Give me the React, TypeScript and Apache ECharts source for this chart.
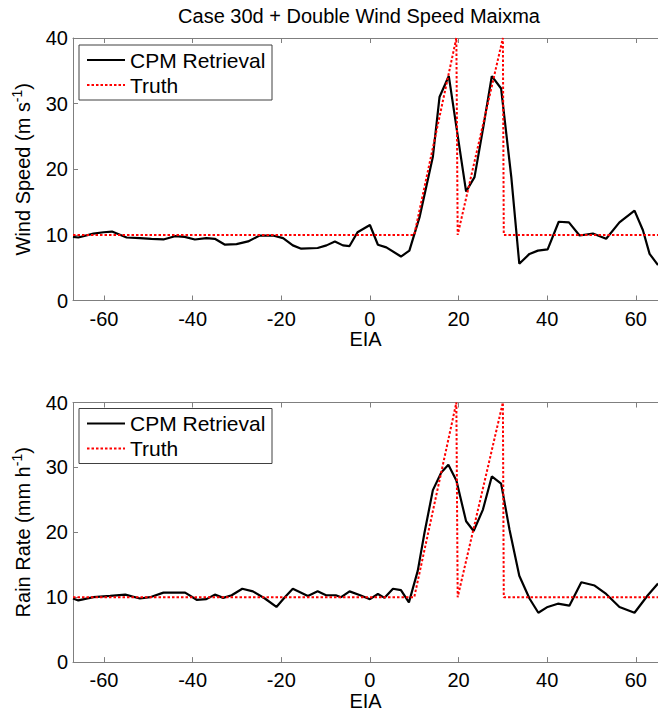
import React, { useEffect, useRef } from "react";
import * as echarts from "echarts";

const titleText = "Case 30d + Double Wind Speed Maixma";
const xTicks = [-60, -40, -20, 0, 20, 40, 60];
const yTicks = [0, 10, 20, 30, 40];

const windX = [-67, -65.8, -62.4, -60.1, -58.2, -54.9, -51.9, -49.3, -46.6, -44.0, -41.8, -39.5, -36.9, -35.0, -32.7, -30.1, -27.5, -24.9, -21.9, -19.6, -17.4, -15.5, -11.8, -9.8, -7.9, -6.1, -4.6, -2.8, 0, 1.8, 3.7, 7.0, 8.9, 11.2, 12.7, 14.2, 15.7, 17.8, 19.5, 21.7, 23.6, 25.6, 27.5, 29.6, 31.9, 33.7, 36.0, 37.9, 40.1, 42.6, 44.9, 47.3, 50.3, 53.3, 56.3, 59.7, 61.6, 63.1, 65.0];
const windY = [9.7, 9.6, 10.2, 10.4, 10.5, 9.6, 9.5, 9.4, 9.3, 9.8, 9.7, 9.3, 9.5, 9.4, 8.5, 8.6, 9.0, 9.9, 9.9, 9.5, 8.4, 7.9, 8.0, 8.4, 9.0, 8.4, 8.3, 10.4, 11.5, 8.5, 8.1, 6.7, 7.6, 12.7, 17.3, 21.9, 31.0, 34.2, 26.5, 16.6, 18.8, 26.5, 34.2, 32.3, 18.8, 5.6, 7.1, 7.6, 7.8, 12.0, 11.9, 9.9, 10.2, 9.4, 11.9, 13.7, 10.7, 7.1, 5.4];

const rainX = [-67, -65.8, -62.4, -58.6, -55.2, -51.9, -49.6, -46.6, -41.7, -39.1, -36.9, -35.0, -33.1, -31.2, -28.8, -26.4, -23.7, -21.1, -19.2, -17.4, -14.0, -11.8, -9.9, -7.7, -6.5, -4.6, -2.2, 0, 1.8, 3.3, 5.2, 7.0, 8.8, 10.8, 12.3, 14.2, 16.1, 17.7, 19.5, 21.7, 23.4, 25.5, 27.5, 29.6, 31.5, 33.7, 36.0, 38.0, 40.1, 42.4, 45.0, 47.7, 50.7, 53.3, 56.3, 59.7, 62.7, 65.0];
const rainY = [9.8, 9.5, 10.0, 10.2, 10.4, 9.8, 10.0, 10.7, 10.7, 9.6, 9.7, 10.4, 9.9, 10.3, 11.3, 10.9, 9.8, 8.5, 10.0, 11.3, 10.2, 10.9, 10.3, 10.3, 10.0, 10.9, 10.3, 9.7, 10.5, 9.9, 11.3, 11.1, 9.2, 14.1, 19.9, 26.5, 29.2, 30.4, 28.0, 21.7, 20.2, 23.5, 28.6, 27.5, 20.4, 13.3, 9.8, 7.6, 8.5, 9.0, 8.7, 12.3, 11.8, 10.5, 8.5, 7.6, 10.3, 12.1];

const truthX = [-67, 10, 19.5, 19.8, 30.0, 30.2, 65];
const truthY = [10, 10, 40, 10, 40, 10, 10];

const FONT = "Liberation Sans, Arial, sans-serif";
const AXIS_COLOR = "#7f7f7f";

const pairs = (xs: number[], ys: number[]) => xs.map((x, i) => [x, ys[i]]);

const GRID_LEFT = 73;
const GRIDS = [
  { top: 38, height: 262.5 },
  { top: 402.5, height: 262 },
];

function legendGraphic(top: number) {
  const bx = 79;
  const by = top + 7;
  return [
    {
      type: "rect",
      shape: { x: bx, y: by, width: 193, height: 55 },
      style: { fill: "#fff", stroke: "#404040", lineWidth: 1 },
      z: 100,
    },
    {
      type: "line",
      shape: { x1: 87, y1: by + 15, x2: 125, y2: by + 15 },
      style: { stroke: "#000", lineWidth: 2 },
      z: 101,
    },
    {
      type: "line",
      shape: { x1: 87, y1: by + 40, x2: 125, y2: by + 40 },
      style: { stroke: "#ff0000", lineWidth: 2, lineDash: [2.5, 2] },
      z: 101,
    },
    {
      type: "text",
      x: 130,
      y: by + 15,
      style: { text: "CPM Retrieval", fill: "#000", font: `21px ${FONT}`, textVerticalAlign: "middle" },
      z: 101,
    },
    {
      type: "text",
      x: 130,
      y: by + 40,
      style: { text: "Truth", fill: "#000", font: `21px ${FONT}`, textVerticalAlign: "middle" },
      z: 101,
    },
  ];
}

export default function App() {
  const ref = useRef<HTMLDivElement>(null);
  useEffect(() => {
    if (!ref.current) return;
    const chart = echarts.init(ref.current, undefined, { renderer: "svg" });
    const xBottom = (gridIndex: number) => ({
      type: "value",
      gridIndex,
      position: "bottom",
      min: -67,
      max: 65,
      name: "EIA",
      nameLocation: "middle",
      nameGap: 28,
      nameTextStyle: { fontFamily: FONT, fontSize: 20, color: "#000" },
      axisLine: { show: true, onZero: false, lineStyle: { color: AXIS_COLOR, width: 1 } },
      axisTick: { show: true, inside: true, length: 5, customValues: xTicks, lineStyle: { color: AXIS_COLOR } },
      axisLabel: { show: true, customValues: xTicks, margin: 8, fontFamily: FONT, fontSize: 20, color: "#000" },
      splitLine: { show: false },
    });
    const xTop = (gridIndex: number) => ({
      type: "value",
      gridIndex,
      position: "top",
      min: -67,
      max: 65,
      axisLine: { show: true, onZero: false, lineStyle: { color: AXIS_COLOR, width: 1 } },
      axisTick: { show: true, inside: true, length: 5, customValues: xTicks, lineStyle: { color: AXIS_COLOR } },
      axisLabel: { show: false },
      splitLine: { show: false },
    });
    const yAx = (gridIndex: number, nameText: string) => ({
      type: "value",
      gridIndex,
      min: 0,
      max: 40,
      interval: 10,
      name: nameText,
      nameLocation: "middle",
      nameGap: 37,
      nameTextStyle: {
        fontFamily: FONT,
        fontSize: 20,
        color: "#000",
        rich: { sup: { fontFamily: FONT, fontSize: 14, color: "#000", verticalAlign: "top", padding: [0, 0, 12, 0] } },
      },
      axisLine: { show: true, onZero: false, lineStyle: { color: AXIS_COLOR, width: 1 } },
      axisTick: { show: true, inside: true, length: 5, lineStyle: { color: AXIS_COLOR } },
      axisLabel: { show: true, margin: 5, fontFamily: FONT, fontSize: 20, color: "#000",
        customValues: yTicks },
      splitLine: { show: false },
    });
    const cpmStyle = { color: "#000", width: 2.2 };
    const truthStyle = { color: "#ff0000", width: 2, type: [2.5, 2] as number[] };
    chart.setOption({
      animation: false,
      backgroundColor: "#fff",
      textStyle: { fontFamily: FONT },
      grid: GRIDS.map((g) => ({ left: GRID_LEFT, right: 0, top: g.top, height: g.height, containLabel: false })),
      xAxis: [xBottom(0), xTop(0), xBottom(1), xTop(1)],
      yAxis: [yAx(0, "Wind Speed (m s{sup|-1})"), yAx(1, "Rain Rate (mm h{sup|-1})")],
      series: [
        { name: "CPM Retrieval", type: "line", xAxisIndex: 0, yAxisIndex: 0, data: pairs(windX, windY), showSymbol: false, lineStyle: cpmStyle, itemStyle: { color: "#000" }, clip: true },
        { name: "Truth", type: "line", xAxisIndex: 0, yAxisIndex: 0, data: pairs(truthX, truthY), showSymbol: false, lineStyle: truthStyle, itemStyle: { color: "#ff0000" }, clip: true },
        { name: "CPM Retrieval", type: "line", xAxisIndex: 2, yAxisIndex: 1, data: pairs(rainX, rainY), showSymbol: false, lineStyle: cpmStyle, itemStyle: { color: "#000" }, clip: true },
        { name: "Truth", type: "line", xAxisIndex: 2, yAxisIndex: 1, data: pairs(truthX, truthY), showSymbol: false, lineStyle: truthStyle, itemStyle: { color: "#ff0000" }, clip: true },
      ],
      graphic: [
        {
          type: "text",
          x: 359,
          y: 16,
          style: { text: titleText, fill: "#000", font: `20px ${FONT}`, textAlign: "center", textVerticalAlign: "middle" },
        },
        ...legendGraphic(GRIDS[0].top),
        ...legendGraphic(GRIDS[1].top - 1),
      ],
    });
    return () => chart.dispose();
  }, []);
  return (
    <div
      ref={ref}
      style={{ position: "fixed", left: 0, top: 0, width: 658, height: 712, background: "#fff" }}
    />
  );
}
